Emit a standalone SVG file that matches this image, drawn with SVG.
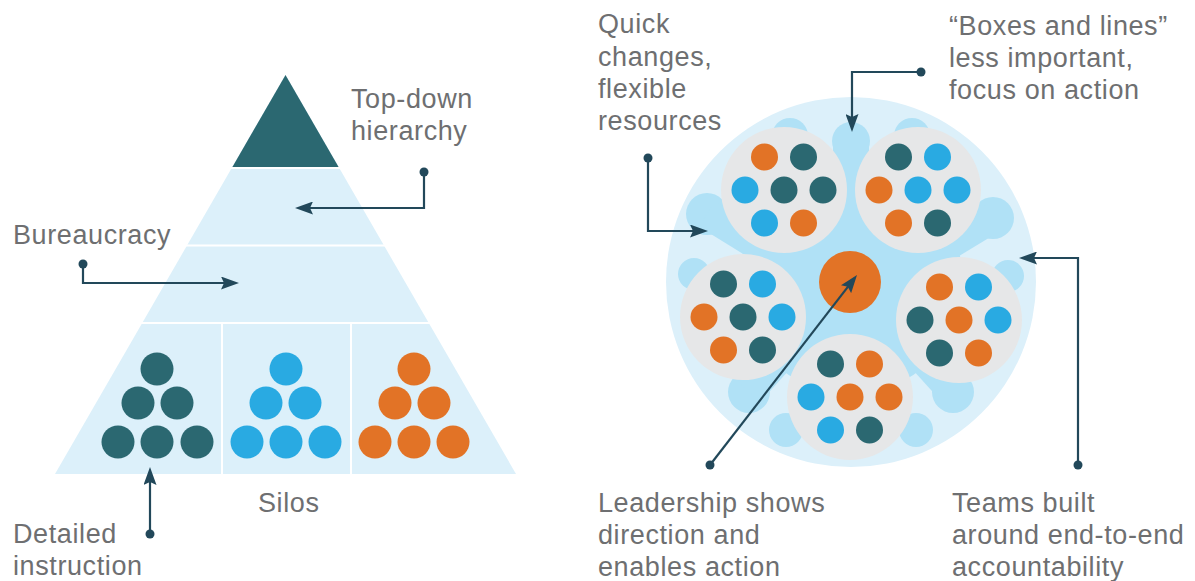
<svg xmlns="http://www.w3.org/2000/svg" width="1195" height="581" viewBox="0 0 1195 581">
<defs>
<style>
.t{font-family:"Liberation Sans",Arial,sans-serif;font-size:27px;fill:#6e6f71;letter-spacing:0.6px}
.conn{fill:none;stroke:#22485a;stroke-width:2.2}
.dot{fill:#22485a}
.lb{fill:#dcf0fa}
.mb{fill:#b0e1f6}
.gr{fill:#e6e7e8}
.te{fill:#2b6871}
.bl{fill:#29aae2}
.or{fill:#e27326}
</style>
<marker id="ah" viewBox="0 0 18 13" refX="10" refY="6.5" markerWidth="18" markerHeight="13" markerUnits="userSpaceOnUse" orient="auto">
<path d="M0,0 L18,6.5 L0,13 L3,6.5 Z" fill="#22485a"/>
</marker>
</defs>
<rect width="1195" height="581" fill="#ffffff"/>

<g id="pyramid">
<polygon class="lb" points="285.5,75 516,474 55,474"/>
<polygon class="te" points="285.5,75 338.6,167 232.4,167"/>
<g stroke="#ffffff" stroke-width="2">
<line x1="200" y1="168" x2="380" y2="168"/>
<line x1="150" y1="245.5" x2="420" y2="245.5"/>
<line x1="100" y1="323" x2="470" y2="323"/>
<line x1="222" y1="323" x2="222" y2="474"/>
<line x1="351" y1="323" x2="351" y2="474"/>
</g>
</g>

<g id="silo-teal">
<circle class="te" cx="157" cy="369" r="16.5"/>
<circle class="te" cx="138" cy="403" r="16.5"/>
<circle class="te" cx="177" cy="403" r="16.5"/>
<circle class="te" cx="118" cy="442" r="16.5"/>
<circle class="te" cx="157" cy="442" r="16.5"/>
<circle class="te" cx="197" cy="442" r="16.5"/>
</g>
<g id="silo-blue">
<circle class="bl" cx="286" cy="369" r="16.5"/>
<circle class="bl" cx="266" cy="403" r="16.5"/>
<circle class="bl" cx="305" cy="403" r="16.5"/>
<circle class="bl" cx="247" cy="442" r="16.5"/>
<circle class="bl" cx="286" cy="442" r="16.5"/>
<circle class="bl" cx="325" cy="442" r="16.5"/>
</g>
<g id="silo-orange">
<circle class="or" cx="414" cy="369" r="16.5"/>
<circle class="or" cx="395" cy="403" r="16.5"/>
<circle class="or" cx="434" cy="403" r="16.5"/>
<circle class="or" cx="375" cy="442" r="16.5"/>
<circle class="or" cx="414" cy="442" r="16.5"/>
<circle class="or" cx="453" cy="442" r="16.5"/>
</g>

<g id="network">
<circle class="lb" cx="851" cy="282" r="185"/>
<circle class="mb" cx="851" cy="282" r="112"/>
<g class="mb">
<circle cx="851" cy="141" r="19"/>
<line x1="851" y1="141" x2="851" y2="200" stroke="#b0e1f6" stroke-width="36"/>
<circle cx="993" cy="218" r="21"/>
<line x1="993" y1="218" x2="940" y2="250" stroke="#b0e1f6" stroke-width="30"/>
<circle cx="707" cy="214" r="21"/>
<line x1="707" y1="214" x2="762" y2="248" stroke="#b0e1f6" stroke-width="30"/>
<circle cx="953" cy="392" r="21"/>
<line x1="953" y1="392" x2="915" y2="350" stroke="#b0e1f6" stroke-width="30"/>
<circle cx="749" cy="392" r="21"/>
<line x1="749" y1="392" x2="787" y2="350" stroke="#b0e1f6" stroke-width="30"/>
</g>
<g class="mb">
<circle cx="790" cy="136" r="18"/>
<circle cx="912" cy="136" r="18"/>
<circle cx="694" cy="274" r="16"/>
<circle cx="1008" cy="276" r="16"/>
<circle cx="786" cy="430" r="17"/>
<circle cx="916" cy="430" r="17"/>
</g>
</g>

<g id="leader">
<circle class="or" cx="850" cy="282" r="31"/>
</g>

<g id="team-tl">
<circle class="gr" cx="784" cy="190" r="63"/>
<circle class="or" cx="764.5" cy="157" r="13.5"/>
<circle class="te" cx="803.5" cy="157" r="13.5"/>
<circle class="bl" cx="745" cy="190" r="13.5"/>
<circle class="te" cx="784" cy="190" r="13.5"/>
<circle class="te" cx="823" cy="190" r="13.5"/>
<circle class="bl" cx="764.5" cy="223" r="13.5"/>
<circle class="or" cx="803.5" cy="223" r="13.5"/>
</g>
<g id="team-tr">
<circle class="gr" cx="918" cy="190" r="63"/>
<circle class="te" cx="898.5" cy="157" r="13.5"/>
<circle class="bl" cx="937.5" cy="157" r="13.5"/>
<circle class="or" cx="879" cy="190" r="13.5"/>
<circle class="bl" cx="918" cy="190" r="13.5"/>
<circle class="bl" cx="957" cy="190" r="13.5"/>
<circle class="or" cx="898.5" cy="223" r="13.5"/>
<circle class="te" cx="937.5" cy="223" r="13.5"/>
</g>
<g id="team-l">
<circle class="gr" cx="743" cy="317" r="63"/>
<circle class="te" cx="723.5" cy="284" r="13.5"/>
<circle class="bl" cx="762.5" cy="284" r="13.5"/>
<circle class="or" cx="704" cy="317" r="13.5"/>
<circle class="te" cx="743" cy="317" r="13.5"/>
<circle class="bl" cx="782" cy="317" r="13.5"/>
<circle class="or" cx="723.5" cy="350" r="13.5"/>
<circle class="te" cx="762.5" cy="350" r="13.5"/>
</g>
<g id="team-r">
<circle class="gr" cx="959" cy="320" r="63"/>
<circle class="or" cx="939.5" cy="287" r="13.5"/>
<circle class="bl" cx="978.5" cy="287" r="13.5"/>
<circle class="te" cx="920" cy="320" r="13.5"/>
<circle class="or" cx="959" cy="320" r="13.5"/>
<circle class="bl" cx="998" cy="320" r="13.5"/>
<circle class="te" cx="939.5" cy="353" r="13.5"/>
<circle class="or" cx="978.5" cy="353" r="13.5"/>
</g>
<g id="team-b">
<circle class="gr" cx="850" cy="397" r="63"/>
<circle class="te" cx="830.5" cy="364" r="13.5"/>
<circle class="or" cx="869.5" cy="364" r="13.5"/>
<circle class="bl" cx="811" cy="397" r="13.5"/>
<circle class="or" cx="850" cy="397" r="13.5"/>
<circle class="or" cx="889" cy="397" r="13.5"/>
<circle class="bl" cx="830.5" cy="430" r="13.5"/>
<circle class="te" cx="869.5" cy="430" r="13.5"/>
</g>

<g id="connectors">
<path class="conn" d="M424,172 V208 H303" marker-end="url(#ah)"/>
<path class="conn" d="M83,264 V283 H231" marker-end="url(#ah)"/>
<path class="conn" d="M150,534 V475" marker-end="url(#ah)"/>
<path class="conn" d="M648,158 V231 H700" marker-end="url(#ah)"/>
<path class="conn" d="M921,72 H852 V124" marker-end="url(#ah)"/>
<path class="conn" d="M710,465 L852.1,281.3" marker-end="url(#ah)"/>
<path class="conn" d="M1078,465 V258 H1027" marker-end="url(#ah)"/>
<circle class="dot" cx="424" cy="172" r="4.5"/>
<circle class="dot" cx="83" cy="264" r="4.5"/>
<circle class="dot" cx="150" cy="534" r="4.5"/>
<circle class="dot" cx="648" cy="158" r="4.5"/>
<circle class="dot" cx="921" cy="72" r="4.5"/>
<circle class="dot" cx="710" cy="465" r="4.5"/>
<circle class="dot" cx="1078" cy="465" r="4.5"/>
</g>

<g id="labels">
<text class="t" x="351" y="108">Top-down</text>
<text class="t" x="351" y="140">hierarchy</text>
<text class="t" x="13" y="244">Bureaucracy</text>
<text class="t" x="258" y="512">Silos</text>
<text class="t" x="13" y="543">Detailed</text>
<text class="t" x="13" y="575">instruction</text>
<text class="t" x="598" y="33">Quick</text>
<text class="t" x="598" y="65.5">changes,</text>
<text class="t" x="598" y="98">flexible</text>
<text class="t" x="598" y="130">resources</text>
<text class="t" x="949" y="35">“Boxes and lines”</text>
<text class="t" x="949" y="67">less important,</text>
<text class="t" x="949" y="99">focus on action</text>
<text class="t" x="598" y="512">Leadership shows</text>
<text class="t" x="598" y="544">direction and</text>
<text class="t" x="598" y="576">enables action</text>
<text class="t" x="952" y="512">Teams built</text>
<text class="t" x="952" y="544">around end-to-end</text>
<text class="t" x="952" y="576">accountability</text>
</g>
</svg>
